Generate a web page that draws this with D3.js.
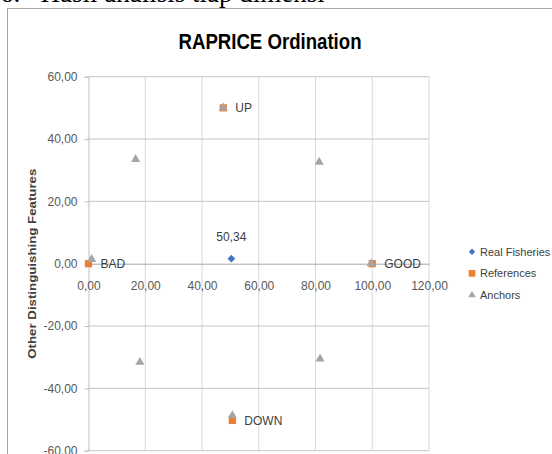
<!DOCTYPE html>
<html>
<head>
<meta charset="utf-8">
<script src="https://cdn.jsdelivr.net/npm/d3@7"></script>
<style>
  html, body { margin: 0; padding: 0; background: #fff; overflow: hidden; }
  svg { display: block; }
</style>
</head>
<body>
<script>
// data
const realFisheries = [{ x: 50.34, y: 1.6, label: "50,34" }];
const references = [
    { x: 0, y: 0, label: "BAD" },
    { x: 100, y: 0, label: "GOOD" },
    { x: 47.5, y: 50, label: "UP" },
    { x: 50.7, y: -50.3, label: "DOWN" }
];
const anchors = [
    { x: 1.1, y: 1.4 }, { x: 99.6, y: 0 }, { x: 47.5, y: 50 }, { x: 50.7, y: -48.7 },
    { x: 16.6, y: 33.5 }, { x: 81.3, y: 32.6 }, { x: 18.1, y: -31.6 }, { x: 81.6, y: -30.5 }
];
const xTicks = [0, 20, 40, 60, 80, 100, 120];
const yTicks = [-60, -40, -20, 0, 20, 40, 60];
const legendItems = ["Real Fisheries", "References", "Anchors"];

const width = 552, height = 454;
const font = "'Liberation Sans', Arial, sans-serif";

const locale = d3.formatLocale({ decimal: ",", thousands: ".", grouping: [3], currency: ["", ""], minus: "-" });
const fmt = locale.format(".2f");

const svg = d3.select("body").append("svg")
    .attr("width", width)
    .attr("height", height);

// page heading cut off at the top
svg.append("text")
    .attr("x", 0)
    .attr("y", 2)
    .attr("font-family", "'Liberation Serif', 'Times New Roman', serif")
    .attr("font-size", 27)
    .attr("fill", "#000")
    .attr("xml:space", "preserve")
    .text("6.   Hasil analisis tiap dimensi");

// chart frame
svg.append("rect")
    .attr("x", 7.5).attr("y", 8.5)
    .attr("width", 560).attr("height", 460)
    .attr("fill", "#fff")
    .attr("stroke", "#a6a6a6");

svg.append("text")
    .attr("x", 270)
    .attr("y", 49)
    .attr("text-anchor", "middle")
    .attr("font-family", font)
    .attr("font-weight", "bold")
    .attr("font-size", 22)
    .attr("textLength", 183)
    .attr("lengthAdjust", "spacingAndGlyphs")
    .attr("fill", "#000")
    .text("RAPRICE Ordination");

const x = d3.scaleLinear().domain([0, 120]).range([88.5, 429]);
const y = d3.scaleLinear().domain([-60, 60]).range([450.7, 76.7]);

// gridlines
svg.append("g")
    .selectAll("line")
    .data(xTicks.slice(1))
    .join("line")
        .attr("x1", d => x(d)).attr("x2", d => x(d))
        .attr("y1", y(60)).attr("y2", y(-60))
        .attr("stroke", "#d9d9d9");

svg.append("g")
    .selectAll("line")
    .data(yTicks.filter(d => d !== 0))
    .join("line")
        .attr("x1", x(0)).attr("x2", x(120))
        .attr("y1", d => y(d)).attr("y2", d => y(d))
        .attr("stroke", "#c4c4c4");

// y axis
const yAxis = svg.append("g")
    .attr("transform", `translate(${x(0)},0)`)
    .call(d3.axisLeft(y).tickValues(yTicks).tickFormat(fmt).tickSize(4).tickPadding(7));
yAxis.select(".domain").attr("stroke", "#bfbfbf");
yAxis.selectAll(".tick line").attr("stroke", "#bfbfbf");
yAxis.selectAll("text")
    .attr("font-family", font).attr("font-size", 12).attr("fill", "#595959");

// x axis crossing at y = 0
const xAxis = svg.append("g")
    .attr("transform", `translate(0,${y(0)})`)
    .call(d3.axisBottom(x).tickValues(xTicks).tickFormat(fmt).tickSize(0).tickPadding(18));
xAxis.select(".domain").attr("stroke", "#a6a6a6");
xAxis.selectAll("text")
    .attr("font-family", font).attr("font-size", 12).attr("fill", "#595959");

svg.append("text")
    .attr("transform", `translate(36,${y(0)}) rotate(-90)`)
    .attr("text-anchor", "middle")
    .attr("font-family", font)
    .attr("font-weight", "bold")
    .attr("font-size", 11)
    .attr("textLength", 190)
    .attr("lengthAdjust", "spacingAndGlyphs")
    .attr("fill", "#404040")
    .text("Other Distinguishing Features");

// markers
const diamond = d3.symbol().type(d3.symbolDiamond2).size(38);
const square = d3.symbol().type(d3.symbolSquare).size(52);
const triangle = d3.symbol().type(d3.symbolTriangle2).size(60);

svg.append("g")
    .selectAll("path")
    .data(realFisheries)
    .join("path")
        .attr("d", diamond)
        .attr("transform", d => `translate(${x(d.x)},${y(d.y)})`)
        .attr("fill", "#4472c4");

svg.append("g")
    .selectAll("path")
    .data(references)
    .join("path")
        .attr("d", square)
        .attr("transform", d => `translate(${x(d.x)},${y(d.y)})`)
        .attr("fill", "#ed7d31");

svg.append("g")
    .selectAll("path")
    .data(anchors)
    .join("path")
        .attr("d", triangle)
        .attr("transform", d => `translate(${x(d.x)},${y(d.y)})`)
        .attr("fill", "#a5a5a5");

// data labels
svg.append("g")
    .selectAll("text")
    .data(references)
    .join("text")
        .attr("x", d => x(d.x) + 12)
        .attr("y", d => y(d.y))
        .attr("dy", "0.36em")
        .attr("font-family", font).attr("font-size", 12).attr("fill", "#404040")
        .text(d => d.label);

svg.append("g")
    .selectAll("text")
    .data(realFisheries)
    .join("text")
        .attr("x", d => x(d.x))
        .attr("y", d => y(d.y) - 22)
        .attr("dy", "0.36em")
        .attr("text-anchor", "middle")
        .attr("font-family", font).attr("font-size", 12).attr("fill", "#404040")
        .text(d => d.label);

// legend
const legendSymbols = [
    d3.symbol().type(d3.symbolDiamond2).size(26),
    d3.symbol().type(d3.symbolSquare).size(44),
    d3.symbol().type(d3.symbolTriangle2).size(40)
];
const legendColors = ["#4472c4", "#ed7d31", "#a5a5a5"];
const legend = svg.append("g")
    .selectAll("g")
    .data(legendItems)
    .join("g")
        .attr("transform", (d, i) => `translate(472,${251.7 + i * 21.7})`);
legend.append("path")
    .attr("d", (d, i) => legendSymbols[i]())
    .attr("fill", (d, i) => legendColors[i]);
legend.append("text")
    .attr("x", 8)
    .attr("dy", "0.36em")
    .attr("font-family", font).attr("font-size", 11).attr("fill", "#404040")
    .text(d => d);
</script>
</body>
</html>
